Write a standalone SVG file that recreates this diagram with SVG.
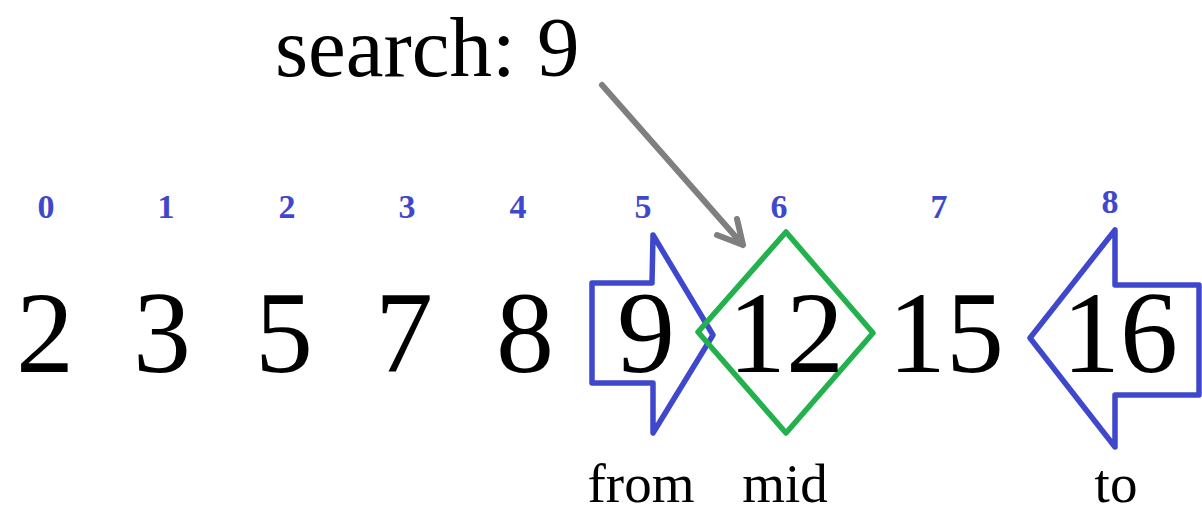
<svg xmlns="http://www.w3.org/2000/svg" width="1202" height="514" viewBox="0 0 1202 514">
<style>
.val{font-family:"Liberation Serif",serif;font-size:116px;fill:#000;text-anchor:middle}
.idx{font-family:"Liberation Serif",serif;font-size:34px;font-weight:bold;fill:#3f48cc;text-anchor:middle}
.lbl{font-family:"Liberation Serif",serif;font-size:55px;fill:#000;text-anchor:middle}
.title{font-family:"Liberation Serif",serif;font-size:85px;fill:#000}
.blue{fill:none;stroke:#3f48cc;stroke-width:5.5;stroke-linejoin:round}
.green{fill:none;stroke:#22b14c;stroke-width:5.5;stroke-linejoin:round}
</style>
<rect width="1202" height="514" fill="#fff"/>
<text class="title" x="275" y="76">search: 9</text>
<g id="connectors">
<path d="M602 85 L743 245 M737 219 L743 245 L717 235" fill="none" stroke="#7f7f7f" stroke-width="6" stroke-linecap="round" stroke-linejoin="round"/>
</g>
<g id="from-pointer"><path class="blue" d="M592 283 L652 283 L653 235 L713 335 L653 433 L653 383 L592 383 Z"/></g>
<g id="mid-pointer"><path class="green" d="M786 232 L873 333 L786 433 L698 332 Z"/></g>
<g id="to-pointer"><path class="blue" d="M1115 230 L1115 285 L1199 285 L1199 395 L1115 395 L1115 447 L1030 338 Z"/></g>
<g id="cell0"><text class="idx" x="46" y="218">0</text><text class="val" x="45" y="372">2</text></g>
<g id="cell1"><text class="idx" x="166" y="218">1</text><text class="val" x="162" y="372">3</text></g>
<g id="cell2"><text class="idx" x="287" y="218">2</text><text class="val" x="284" y="372">5</text></g>
<g id="cell3"><text class="idx" x="407" y="218">3</text><text class="val" x="404" y="372">7</text></g>
<g id="cell4"><text class="idx" x="518" y="218">4</text><text class="val" x="525" y="372">8</text></g>
<g id="cell5"><text class="idx" x="643" y="218">5</text><text class="val" x="646" y="372">9</text></g>
<g id="cell6"><text class="idx" x="779" y="218">6</text><text class="val" x="786" y="372">12</text></g>
<g id="cell7"><text class="idx" x="939" y="218">7</text><text class="val" x="946" y="372">15</text></g>
<g id="cell8"><text class="idx" x="1110" y="213">8</text><text class="val" x="1120" y="372">16</text></g>
<g id="labels">
<text class="lbl" x="641" y="502">from</text>
<text class="lbl" x="785" y="502">mid</text>
<text class="lbl" x="1116" y="502">to</text>
</g>
</svg>
